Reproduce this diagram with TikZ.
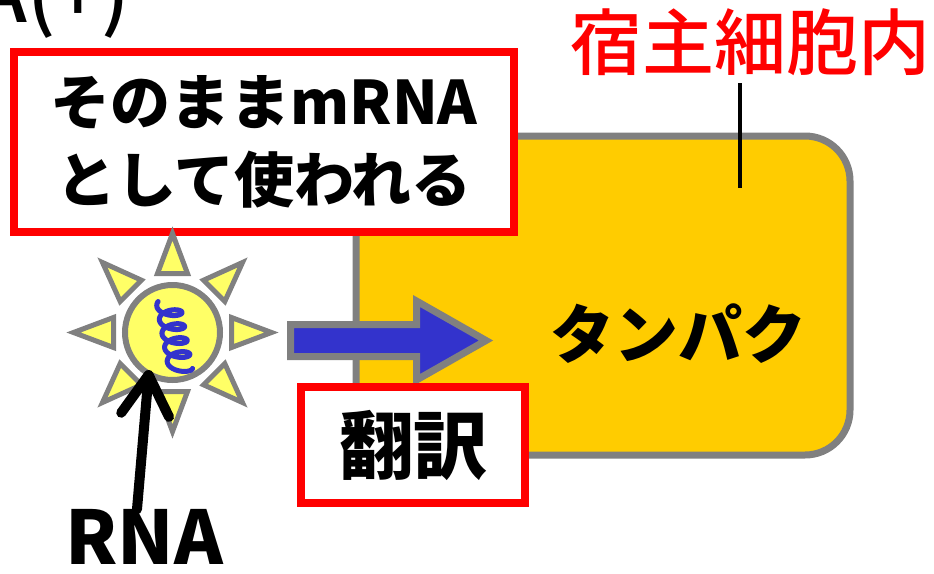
\documentclass[tikz,border=0pt]{standalone}
\usepackage{fontspec}
\newfontfamily\jp{Noto Sans CJK JP}
\newfontfamily\jpm{Noto Sans CJK JP Medium}
\usetikzlibrary{arrows.meta}
\definecolor{boxred}{HTML}{FF0000}
\definecolor{edgegray}{HTML}{808080}
\definecolor{cellyellow}{HTML}{FFCC00}
\definecolor{sunyellow}{HTML}{FFFF66}
\definecolor{coilblue}{HTML}{3333CC}
\begin{document}
\begin{tikzpicture}[x=1pt,y=-1pt,
  labelbox/.style={draw=boxred, line width=8pt, fill=white, inner sep=0pt},
  bigbold/.style={font=\jp\bfseries\fontsize{#1}{#1}\selectfont, inner sep=0pt},
  ray/.style={draw=edgegray, fill=sunyellow, line width=5pt, line join=miter},
  pointer/.style={line width=10pt, line cap=round, -{Straight Barb[length=40pt,width=48pt,round]}}]
\useasboundingbox (0,0) rectangle (934,573);
\clip (0,0) rectangle (934,573);

% heading, cut by the top edge
\node[font=\jpm\fontsize{80}{80}\selectfont, inner sep=0pt, anchor=base east] (head) at (130,22) {A(+)};

% host cell
\node[draw=edgegray, line width=7pt, fill=cellyellow, rounded corners=45pt,
      minimum width=494pt, minimum height=319pt, inner sep=0pt] (cell) at (603,295.5) {};
\node[bigbold=64] (prot) at (678,334) {タンパク};

% label of the cell with its pointer line
\node[text=boxred, font=\jpm\fontsize{72}{72}\selectfont, inner sep=0pt] (host) at (750,42) {宿主細胞内};
\coordinate (pintop) at (740,83);
\coordinate (pin) at (740,188);
\draw[line width=4pt] (pintop) -- (pin);

% translation block arrow
\draw[draw=edgegray, fill=coilblue, line width=7pt, line join=miter]
  (290.5,324.5) -- (416.5,324.5) -- (416.5,301) -- (486,340.5)
  -- (416.5,380) -- (416.5,356.5) -- (290.5,356.5) -- cycle;

% text boxes
\node[labelbox, minimum width=500pt, minimum height=180pt, align=center,
      font=\jp\bfseries\fontsize{60}{78}\selectfont] (use) at (264,142) {そのままmRNA\\として使われる};
\node[labelbox, minimum width=224pt, minimum height=116pt,
      font=\jp\bfseries\fontsize{74}{74}\selectfont] (xl) at (413,445) {翻訳};

% virus particle
\node[circle, draw=edgegray, fill=sunyellow, line width=6pt, minimum size=95pt, inner sep=0pt] (sun) at (172.5,332.5) {};
\foreach \a in {0,45,...,315}
  \draw[ray, shift={(sun.center)}, rotate=\a] (99,0) -- (59,15) -- (59,-15) -- cycle;
\draw[coilblue, line width=5pt, line cap=round, line join=round, shift={(sun.center)}]
  plot[smooth, samples=160, domain=150:1800, variable=\t]
  ({-4 + 12*((\t-150)/1650) + 12*cos(\t)}, {-28 + 64*((\t-150)/1650) - 6*sin(\t)});

% RNA label and its arrow
\node[bigbold=74] (rna) at (144,537) {RNA};
\coordinate (rnatip) at (149,370);
\draw[pointer] ([xshift=-7pt]rna.north) -- (rnatip);
\end{tikzpicture}
\end{document}
